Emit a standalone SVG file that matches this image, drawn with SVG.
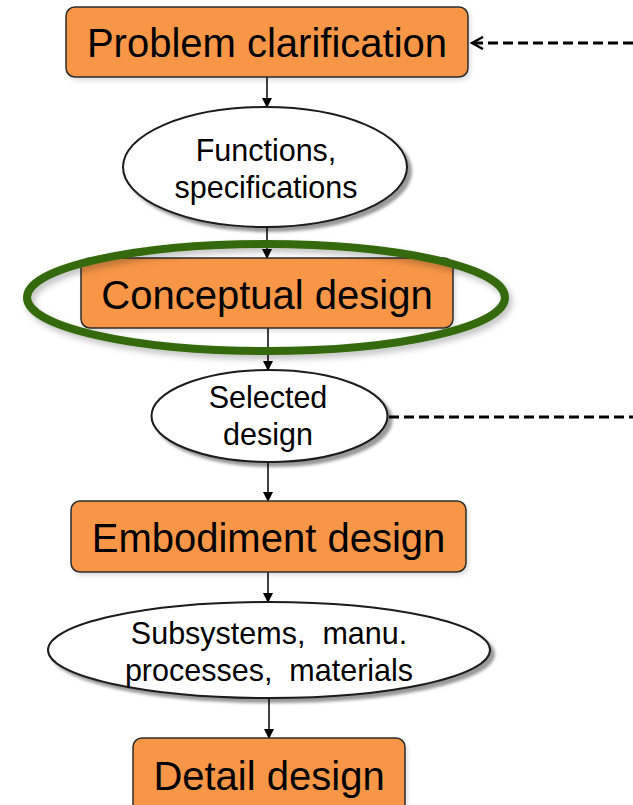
<svg xmlns="http://www.w3.org/2000/svg" width="633" height="805" viewBox="0 0 633 805">
  <style>
    .box { fill: #F79646; stroke: #2b2b2b; stroke-width: 1.5; filter: url(#sh); }
    .ell { fill: #ffffff; stroke: #1a1a1a; stroke-width: 2; filter: url(#esh); }
    .big { font-family: "Liberation Sans", Arial, sans-serif; font-size: 40px; fill: #000; text-anchor: middle; }
    .small { font-family: "Liberation Sans", Arial, sans-serif; font-size: 30.5px; fill: #000; text-anchor: middle; white-space: pre; }
    .conn { stroke: #000; stroke-width: 1.5; fill: none; marker-end: url(#arr); }
    .dash { stroke: #000; stroke-width: 3.2; fill: none; stroke-dasharray: 10 5; }
  </style>
  <defs>
    <marker id="arr" markerWidth="10" markerHeight="10" refX="9" refY="5" orient="auto" markerUnits="userSpaceOnUse">
      <path d="M0,0 L10,5 L0,10 Z" fill="#000"/>
    </marker>
    <marker id="open" markerWidth="14" markerHeight="14" refX="12" refY="7" orient="auto" markerUnits="userSpaceOnUse">
      <path d="M1,1 L12,7 L1,13" fill="none" stroke="#000" stroke-width="2.5"/>
    </marker>
    <filter id="sh" x="-10%" y="-20%" width="120%" height="150%">
      <feDropShadow dx="2" dy="3" stdDeviation="2" flood-color="#000" flood-opacity="0.12"/>
    </filter>
    <filter id="esh" x="-10%" y="-20%" width="125%" height="150%">
      <feDropShadow dx="4" dy="4" stdDeviation="1.5" flood-color="#000" flood-opacity="0.4"/>
    </filter>
    <filter id="gsh" x="-10%" y="-20%" width="120%" height="150%">
      <feDropShadow dx="3" dy="4" stdDeviation="3" flood-color="#000" flood-opacity="0.25"/>
    </filter>
  </defs>

  <g id="connectors">
    <line class="conn" x1="267" y1="77" x2="267" y2="107"/>
    <line class="conn" x1="267" y1="227" x2="267" y2="258"/>
    <line class="conn" x1="268" y1="328" x2="268" y2="370"/>
    <line class="conn" x1="268" y1="462" x2="268" y2="501"/>
    <line class="conn" x1="268" y1="572" x2="268" y2="602"/>
    <line class="conn" x1="269" y1="698" x2="269" y2="738"/>
    <line class="dash" x1="633" y1="43" x2="472" y2="43" marker-end="url(#open)"/>
    <line class="dash" x1="389" y1="417" x2="633" y2="417"/>
  </g>

  <g id="problem-clarification">
    <rect class="box" x="66" y="7" width="402" height="70" rx="9"/>
    <text class="big" x="267" y="57">Problem clarification</text>
  </g>

  <g id="functions-specifications">
    <ellipse class="ell" cx="265" cy="167" rx="142" ry="60"/>
    <text class="small" x="266" y="161">Functions,</text>
    <text class="small" x="266" y="198">specifications</text>
  </g>

  <g id="conceptual-design">
    <rect class="box" x="81" y="258" width="372" height="70" rx="9"/>
    <text class="big" x="267" y="309">Conceptual design</text>
  </g>

  <g id="highlight">
    <ellipse cx="266" cy="297.5" rx="239" ry="53.5" fill="none" stroke="#35690c" stroke-width="8" filter="url(#gsh)"/>
  </g>

  <g id="selected-design">
    <ellipse class="ell" cx="269.5" cy="416" rx="118" ry="46"/>
    <text class="small" x="268" y="408">Selected</text>
    <text class="small" x="268" y="445">design</text>
  </g>

  <g id="embodiment-design">
    <rect class="box" x="71" y="501" width="395" height="71" rx="9"/>
    <text class="big" x="268.5" y="552">Embodiment design</text>
  </g>

  <g id="subsystems">
    <ellipse class="ell" cx="269" cy="650" rx="221" ry="48"/>
    <text class="small" x="269" y="644">Subsystems,  manu.</text>
    <text class="small" x="269" y="681">processes,  materials</text>
  </g>

  <g id="detail-design">
    <rect class="box" x="133" y="738" width="272" height="80" rx="9"/>
    <text class="big" x="269" y="790">Detail design</text>
  </g>
</svg>
